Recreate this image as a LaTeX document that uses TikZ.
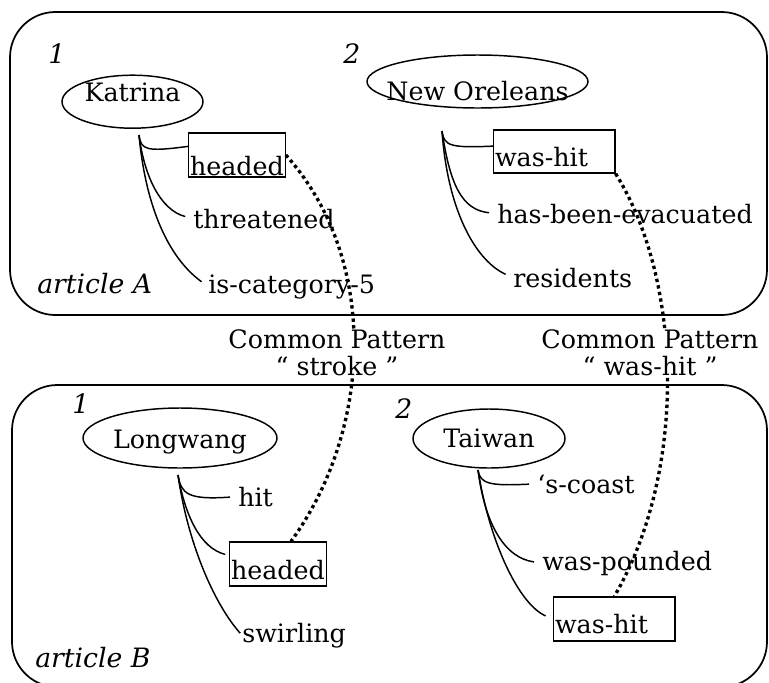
\documentclass[tikz,border=0pt]{standalone}
\usepackage{fontspec}
\setmainfont{DejaVu Serif}
\usetikzlibrary{shapes.geometric}
\newcommand\elltxt[2]{\makebox[0pt]{\raisebox{#1}[0pt][0pt]{#2}}}
\begin{document}
\begin{tikzpicture}[x=0.75pt,y=-0.75pt,
  every node/.style={font=\fontsize{19}{20.25}\selectfont},
  panel/.style={draw, line width=1.3pt, rounded corners=34pt},
  ell/.style={ellipse, draw, line width=1.1pt, inner sep=0pt},
  leaf/.style={inner sep=0pt, anchor=base west},
  tag/.style={inner sep=0pt, anchor=base west, font=\fontsize{20}{20.25}\selectfont\itshape},
  wbox/.style={draw, line width=1pt, inner xsep=1pt, inner ysep=0pt, anchor=base west, text height=27pt, text depth=5.25pt},
  branch/.style={line width=1.1pt},
  link/.style={line width=2.5pt, dash pattern=on 2.5pt off 2.5pt},
  common/.style={align=center, fill=white, inner sep=0pt}
]
\useasboundingbox (0,0) rectangle (769,683);
\clip (0,0) rectangle (769,683);

% panels
\draw[panel] (10,12) rectangle (767,315);
\draw[panel] (12,385) rectangle (767,687);

% tags
\node[tag] (n1a) at (48,63) {1};
\node[tag] (n2a) at (343,63) {2};
\node[tag] (artA) at (37,293) {article A};
\node[tag] (n1b) at (72,413) {1};
\node[tag] (n2b) at (395,418) {2};
\node[tag] (artB) at (35,667) {article B};

% entities
\node[ell, minimum width=105.75pt, minimum height=39.75pt] (katrina) at (132.5,101.7) {\elltxt{0pt}{Katrina}};
\node[ell, minimum width=165.75pt, minimum height=39.75pt] (neworl) at (477.5,81.5) {\elltxt{-13.9pt}{New Oreleans}};
\node[ell, minimum width=145.5pt, minimum height=45pt] (longwang) at (180,438) {\elltxt{-7.5pt}{Longwang}};
\node[ell, minimum width=114pt, minimum height=44.25pt] (taiwan) at (489,438.5) {\elltxt{-7.1pt}{Taiwan}};

% boxed patterns
\node[wbox, text height=31.5pt, text depth=1.5pt] (headedA) at (188,175) {headed};
\node[wbox, text width=89pt, align=left] (wasA) at (493,166) {was-hit};
\node[wbox, text height=27.75pt] (headedB) at (229,579) {headed};
\node[wbox, text width=89pt, align=left, text depth=6pt] (wasB) at (553,633) {was-hit};

% leaves
\node[leaf] (threat) at (193,228) {threatened};
\node[leaf] (iscat) at (208,293) {is-category-5};
\node[leaf] (hbe) at (497,223) {has-been-evacuated};
\node[leaf] (res) at (513,287) {residents};
\node[leaf] (hit) at (238,506) {hit};
\node[leaf] (swirl) at (242,642) {swirling};
\node[leaf] (coast) at (537,493) {‘s-coast};
\node[leaf] (pounded) at (542,570) {was-pounded};

% roots
\coordinate (k0) at (139,135);
\coordinate (o0) at (442,131);
\coordinate (l0) at (178,475);
\coordinate (t0) at (478,470);

% branches
\draw[branch] (k0) .. controls (141,150) and (146,152) .. (headedA.170);
\draw[branch, shorten >=6pt] (k0) .. controls (144,175) and (160,210) .. (threat.west);
\draw[branch, shorten >=6pt] (k0) .. controls (145,200) and (165,255) .. (iscat.west);

\draw[branch] (o0) .. controls (444,146) and (450,148) .. (wasA.175);
\draw[branch, shorten >=6pt] (o0) .. controls (450,185) and (462,210) .. (hbe.west);
\draw[branch, shorten >=6pt] (o0) .. controls (448,215) and (478,262) .. (res.west);

\draw[branch, shorten >=6pt] (l0) .. controls (181,494) and (188,500) .. (hit.west);
\draw[branch, shorten >=3pt] (l0) .. controls (185,515) and (200,548) .. (headedB.170);
\draw[branch, shorten >=2pt] (l0) .. controls (188,545) and (215,605) .. (swirl.west);

\draw[branch, shorten >=6pt] (t0) .. controls (480,484) and (490,486) .. (coast.west);
\draw[branch, shorten >=6pt] (t0) .. controls (485,525) and (505,558) .. (pounded.west);
\draw[branch, shorten >=6pt] (t0) .. controls (490,545) and (520,605) .. (wasB.west);

% common pattern links
\draw[link] (headedA.east) .. controls (380,260) and (372,430) .. (headedB.60);
\draw[link] (wasA.south east) .. controls (682,280) and (688,470) .. (wasB.north);

\node[common, anchor=base] (cpl) at (337,375) {Common Pattern\\“ stroke ”};
\node[common, anchor=base] (cpr) at (650,375) {Common Pattern\\“ was-hit ”};
\end{tikzpicture}
\end{document}
